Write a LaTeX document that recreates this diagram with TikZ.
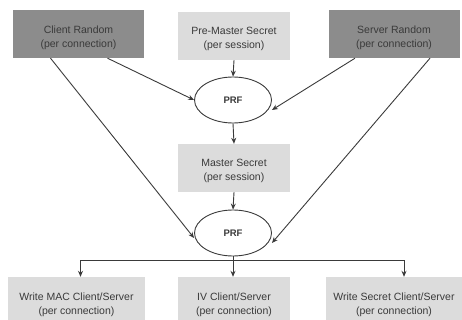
\documentclass[tikz,border=0pt]{standalone}
\usepackage{fontspec}
\setmainfont{Liberation Sans}
\usetikzlibrary{shapes.geometric,arrows.meta}
\definecolor{darkbox}{HTML}{8C8C8C}
\definecolor{lightbox}{HTML}{DCDCDC}
\definecolor{inkgray}{HTML}{3A3A3A}
\begin{document}
\begin{tikzpicture}[x=1pt,y=-1pt,
  every node/.style={font=\fontsize{10.5}{14}\selectfont, text=inkgray, align=center},
  darkkey/.style={fill=darkbox, minimum width=131, minimum height=48, inner sep=0},
  lightkey/.style={fill=lightbox, minimum width=112, minimum height=48, inner sep=0},
  outkey/.style={fill=lightbox, minimum width=137, minimum height=44, inner sep=0},
  prf/.style={ellipse, draw=inkgray, line width=0.9, fill=white, minimum width=77, minimum height=46, inner sep=0, font=\fontsize{9.5}{10}\selectfont\bfseries},
  link/.style={draw=inkgray, line width=0.9, -{Stealth[length=6,width=5]}}]
\useasboundingbox (0,0) rectangle (462,320);
% key boxes
\node[darkkey]  (cr) at (78.5,34) {};
\node[lightkey] (pm) at (234,36) {};
\node[darkkey]  (sr) at (394,34) {};
\node[lightkey] (ms) at (234,168) {};
\node[outkey] (mac) at (76.5,299) {};
\node[outkey, minimum width=112] (iv) at (234,299) {};
\node[outkey] (ws) at (394,299) {};
% box captions, set a little below each box centre
\node (crt)  at ([yshift=-4]cr.center)  {Client Random\\(per connection)};
\node (pmt)  at ([yshift=-3]pm.center)  {Pre-Master Secret\\(per session)};
\node (srt)  at ([yshift=-4]sr.center)  {Server Random\\(per connection)};
\node (mst)  at ([yshift=-3]ms.center)  {Master Secret\\(per session)};
\node (mact) at ([yshift=-6]mac.center) {Write MAC Client/Server\\(per connection)};
\node (ivt)  at ([yshift=-6]iv.center)  {IV Client/Server\\(per connection)};
\node (wst)  at ([yshift=-6]ws.center)  {Write Secret Client/Server\\(per connection)};
% pseudo-random functions
\node[prf] (p1) at (233,100) {PRF};
\node[prf] (p2) at (233,233) {PRF};
% inputs to the first PRF
\draw[link] (pm.south) -- (p1.north);
\draw[link] ([xshift=29]cr.south) -- (p1.west);
\draw[link] ([xshift=-39]sr.south) -- ([yshift=-10]p1.east);
% master secret and second PRF
\draw[link] (p1.south) -- (ms.north);
\draw[link] (ms.south) -- (p2.north);
\draw[link] ([xshift=-28]cr.south) -- ([yshift=-5]p2.west);
\draw[link] ([xshift=36]sr.south) -- ([yshift=-10]p2.east);
% key block split
\coordinate (split) at (233,260);
\draw[draw=inkgray, line width=0.9] (p2.south) -- (split);
\draw[link] (split) -| ([xshift=4]mac.north);
\draw[link] (split) -- (iv.north -| split);
\draw[link] (split) -| ([xshift=10]ws.north);
\end{tikzpicture}
\end{document}
